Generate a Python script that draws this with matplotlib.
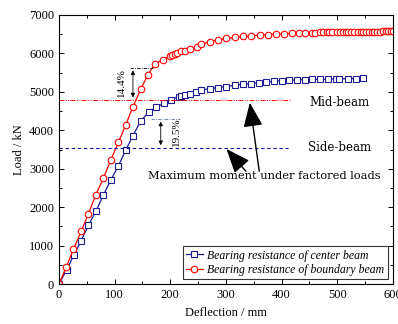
import matplotlib
matplotlib.use('Agg')
import matplotlib.pyplot as plt
from matplotlib.ticker import MultipleLocator

# center beam (blue squares)
center_x = [0, 14, 27, 40, 53, 67, 80, 93, 107, 120, 133, 147, 161, 175, 188,
            202, 215, 220, 226, 236, 247, 256, 271, 286, 301, 316, 331, 346,
            360, 373, 386, 400, 413, 427, 442, 455, 470, 483, 497, 504, 519,
            533, 546]
center_y = [0, 370, 760, 1130, 1530, 1910, 2320, 2700, 3080, 3480, 3860, 4240,
            4470, 4600, 4700, 4800, 4870, 4890, 4920, 4950, 4995, 5045, 5085,
            5110, 5135, 5170, 5195, 5215, 5240, 5255, 5275, 5290, 5300, 5310,
            5320, 5325, 5325, 5330, 5335, 5335, 5345, 5345, 5350]

# boundary beam (red circles)
boundary_x = [0, 13, 26, 40, 53, 66, 80, 93, 107, 120, 133, 147, 160, 173, 187,
              199, 203, 208, 213, 219, 226, 235, 248, 256, 271, 286, 301, 316,
              331, 346, 361, 376, 390, 404, 418, 431, 443, 454, 461, 469, 475,
              482, 486, 490, 500, 505, 510, 515, 520, 525, 530, 537, 542, 547,
              552, 557, 562, 567, 572, 577, 582, 587, 592, 597, 600]
boundary_y = [0, 435, 905, 1370, 1830, 2310, 2760, 3220, 3690, 4140, 4610,
              5065, 5450, 5735, 5830, 5935, 5960, 5990, 6015, 6050, 6070, 6110,
              6170, 6240, 6300, 6350, 6390, 6415, 6440, 6455, 6475, 6490, 6500,
              6510, 6520, 6530, 6535, 6540, 6540, 6545, 6545, 6545, 6550, 6550,
              6550, 6550, 6555, 6555, 6555, 6555, 6560, 6560, 6560, 6560, 6560,
              6565, 6565, 6565, 6565, 6565, 6570, 6570, 6570, 6570, 6570]

# maximum moment under factored loads
mid_beam = 4780
side_beam = 3540
mid_peak = 5632
side_peak = 4300

blue = '#1c1c96'
red = '#ff0000'
serif = 'Liberation Serif'

fig = plt.figure(figsize=(3.98, 3.24), dpi=100)
ax = fig.add_axes([0.148, 0.123, 0.839, 0.831])

ax.plot(center_x, center_y, '-s', color=blue, lw=0.9, ms=4.3, mfc='white',
        mec=blue, mew=0.8, label='Bearing resistance of center beam')
ax.plot(boundary_x, boundary_y, '-o', color=red, lw=0.9, ms=4.7, mfc='white',
        mec=red, mew=0.8, label='Bearing resistance of boundary beam')

ax.plot([0, 415], [mid_beam, mid_beam], color=red, lw=0.7,
        dashes=[5, 1.5, 1, 1.5, 1, 1.5])
ax.plot([0, 411], [side_beam, side_beam], color='#1010a0', lw=0.8,
        dashes=[3, 2.5])

# percentage markers
ax.plot([127, 169], [mid_peak, mid_peak], color='k', lw=0.6, dashes=[4, 1.5, 1, 1.5])
ax.annotate('', xy=(133, mid_beam), xytext=(133, mid_peak),
            arrowprops=dict(arrowstyle='<|-|>', mutation_scale=6, lw=0.6, color='k'))
ax.text(112, 5230, '14.4%', rotation=90, ha='center', va='center',
        fontsize=8, family=serif)

ax.plot([166, 217], [side_peak, side_peak], color='#5a7090', lw=0.6, dashes=[4, 1.5, 1, 1.5])
ax.annotate('', xy=(183, side_beam), xytext=(183, side_peak),
            arrowprops=dict(arrowstyle='<|-|>', mutation_scale=6, lw=0.6, color='k'))
ax.text(212, 3960, '19.5%', rotation=90, ha='center', va='center',
        fontsize=8, family=serif)

ax.text(505, 4710, 'Mid-beam', ha='center', va='center', fontsize=8.5,
        family='DejaVu Serif')
ax.text(505, 3560, 'Side-beam', ha='center', va='center', fontsize=8.5,
        family='DejaVu Serif')
ax.text(369, 2800, 'Maximum moment under factored loads', ha='center',
        va='center', fontsize=8.2, family='DejaVu Serif')

big_head = '-|>,head_length=0.75,head_width=0.3'
ax.annotate('', xy=(343, 4718), xytext=(360, 2935),
            arrowprops=dict(arrowstyle=big_head, mutation_scale=20, lw=1.0,
                            color='k', shrinkA=0, shrinkB=0))
ax.annotate('', xy=(301, 3516), xytext=(336, 2935),
            arrowprops=dict(arrowstyle=big_head, mutation_scale=20, lw=1.0,
                            color='k', shrinkA=0, shrinkB=0))

ax.set_xlim(0, 600)
ax.set_ylim(0, 7000)
ax.xaxis.set_major_locator(MultipleLocator(100))
ax.xaxis.set_minor_locator(MultipleLocator(50))
ax.yaxis.set_major_locator(MultipleLocator(1000))
ax.yaxis.set_minor_locator(MultipleLocator(500))
ax.tick_params(which='both', direction='in', top=True, right=True, width=0.7)
ax.tick_params(which='major', length=3.5, labelsize=9)
ax.tick_params(which='minor', length=2)
for lab in ax.get_xticklabels() + ax.get_yticklabels():
    lab.set_family(serif)
for s in ax.spines.values():
    s.set_linewidth(0.8)

ax.set_xlabel('Deflection / mm', fontsize=9, family=serif, labelpad=4)
ax.set_ylabel('Load / kN', fontsize=9, family=serif, labelpad=3)

leg = ax.legend(loc='lower right', prop=dict(family=serif, style='italic', size=8.5),
                frameon=True, fancybox=False, edgecolor='k', handlelength=1.4,
                handletextpad=0.4, borderpad=0.3, labelspacing=0.2,
                borderaxespad=0.4)
leg.get_frame().set_linewidth(0.8)

fig.savefig('out.png', dpi=100)
